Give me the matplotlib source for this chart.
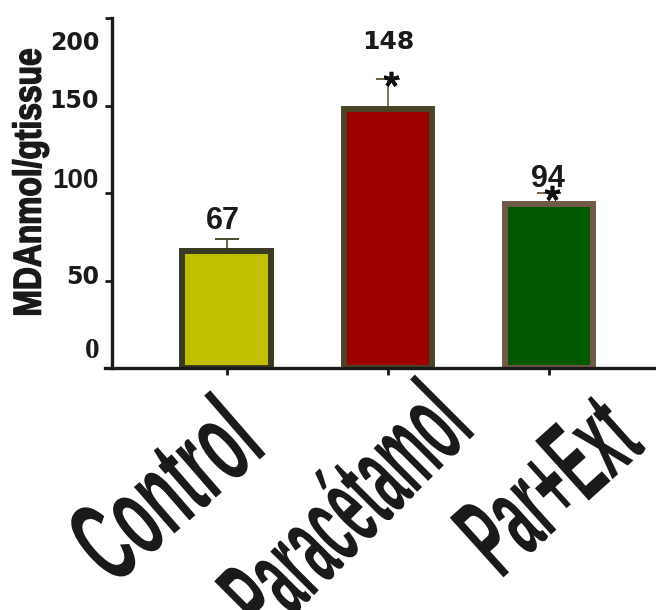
import matplotlib
matplotlib.use("Agg")
import matplotlib.pyplot as plt
import matplotlib.patheffects as pe
from matplotlib.font_manager import FontProperties, fontManager
from matplotlib.transforms import Affine2D, ScaledTranslation
import numpy as np

# MDA levels per group
groups = ["Control", "Paracétamol", "Par+Ext"]
mda = [67, 148, 94]
mda_err = [7, 17, 6]
value_text = ["67", "148", "94"]
significant = [False, True, True]
y_ticks = [0, 50, 100, 150, 200]
y_tick_text = ["0", "50", "100", "150", "200"]

# styling
fill_colors = ["#c0c000", "#9c0000", "#005800"]
edge_colors = ["#3a3a22", "#4b4427", "#705a47"]
err_colors = ["#4a4a30", "#6a6040", "#7a6550"]
ink = "#1a1a1a"

installed = {f.name for f in fontManager.ttflist}
narrow = "Liberation Sans Narrow" if "Liberation Sans Narrow" in installed else "Liberation Sans"


class Squeeze(pe.AbstractPathEffect):
    """Condense glyphs along the baseline to a fixed pixel length."""

    def __init__(self, length_px, keep="right", thicken=0.0):
        super().__init__()
        self.length_px = length_px
        self.keep = keep
        self.thicken = thicken

    def draw_path(self, renderer, gc, tpath, affine, rgbFace=None):
        ext = tpath.get_extents()
        m = affine.get_matrix()
        scale = np.sqrt(abs(m[0, 0] * m[1, 1] - m[0, 1] * m[1, 0]))
        sx = self.length_px / (ext.width * scale)
        pivot = ext.x1 if self.keep == "right" else 0.5 * (ext.x0 + ext.x1)
        squeeze = Affine2D().translate(-pivot, 0).scale(sx, 1).translate(pivot, 0)
        gc0 = renderer.new_gc()
        gc0.copy_properties(gc)
        if self.thicken and rgbFace is not None:
            gc0.set_linewidth(self.thicken)
            gc0.set_foreground(rgbFace)
        renderer.draw_path(gc0, tpath, squeeze + affine, rgbFace)
        gc0.restore()


def px_offset(fig, dx, dy):
    # shift in pixels, dy measured downward
    return ScaledTranslation(dx / fig.dpi, -dy / fig.dpi, fig.dpi_scale_trans)


fig = plt.figure(figsize=(6.56, 6.10), dpi=100)
ax = fig.add_axes([105 / 656, 1 - 368 / 610, 551 / 656, 350 / 610])
x = np.arange(len(groups))

ax.bar(x, mda, width=0.55, color=fill_colors, edgecolor=edge_colors,
       linewidth=4.3, zorder=2)

for i in range(len(groups)):
    ax.errorbar(x[i], mda[i], yerr=[[0], [mda_err[i]]], fmt="none",
                ecolor=err_colors[i], elinewidth=1.2, capsize=8.5,
                capthick=1.4, zorder=1)
    if significant[i]:
        ax.plot(x[i] + 0.02, mda[i] + mda_err[i], marker=(5, 2, 0), ms=11,
                mew=2.6, color="#111111", zorder=4)

# numbers above the bars
label_lift = [24, 50, 20]
label_shift = [-3, 0, -1]
label_fonts = [
    FontProperties(family="Liberation Sans", weight="bold", size=22),
    FontProperties(family="DejaVu Sans", weight="bold", size=18),
    FontProperties(family="Liberation Sans", weight="bold", size=22),
]
for i in range(len(groups)):
    ax.annotate(value_text[i], (x[i], mda[i]),
                xytext=(label_shift[i], label_lift[i]), textcoords="offset points",
                ha="center", va="center_baseline", color=ink,
                fontproperties=label_fonts[i], annotation_clip=False)

ax.set_xlim(-0.755, 2.663)
ax.set_ylim(0, 200)
for s in ["top", "right"]:
    ax.spines[s].set_visible(False)
ax.spines["left"].set_position(("axes", 7 / 551))
for s in ["left", "bottom"]:
    ax.spines[s].set_linewidth(2.4)
    ax.spines[s].set_color(ink)

ax.tick_params(axis="y", direction="out", length=5, width=2, pad=4.3, colors=ink)
ax.tick_params(axis="x", direction="out", length=5, width=2, pad=0, colors=ink)

# y tick labels
ax.set_yticks(y_ticks, y_tick_text)
ytick_fonts = [
    FontProperties(family="Liberation Serif", weight="bold", size=21),
    FontProperties(family="DejaVu Sans", weight="bold", size=17),
    FontProperties(family="Liberation Sans", weight="bold", size=20),
    FontProperties(family="DejaVu Sans", weight="bold", size=17),
    FontProperties(family="DejaVu Sans", weight="bold", size=17),
]
ytick_nudge = [-21, -5.5, -15, -6.5, 22]
for lab, fp, dy in zip(ax.get_yticklabels(), ytick_fonts, ytick_nudge):
    lab.set_fontproperties(fp)
    lab.set_transform(lab.get_transform() + px_offset(fig, 0, dy))

# group labels, tall and condensed
ax.set_xticks(x, groups)
xtick_rot = [41, 45, 42]
xtick_len = [200, 288, 192]
xtick_nudge = [(-11, 10), (32, -6), (41, 10)]
for lab, rot, ln, (dx, dy) in zip(ax.get_xticklabels(), xtick_rot, xtick_len, xtick_nudge):
    lab.set_fontproperties(FontProperties(family=narrow, weight="bold", size=84))
    lab.set_rotation(rot)
    lab.set_rotation_mode("anchor")
    lab.set_ha("right")
    lab.set_va("top")
    lab.set_color(ink)
    lab.set_path_effects([Squeeze(ln)])
    lab.set_transform(lab.get_transform() + px_offset(fig, dx, dy))

ylab = ax.set_ylabel("MDAnmol/gtissue",
                     fontproperties=FontProperties(family=narrow, weight="bold", size=28),
                     color=ink, va="center")
ylab.set_path_effects([Squeeze(265, keep="center", thicken=1.0)])
ax.yaxis.set_label_coords(-0.135, 0.53)

fig.savefig("out.png", dpi=100)
